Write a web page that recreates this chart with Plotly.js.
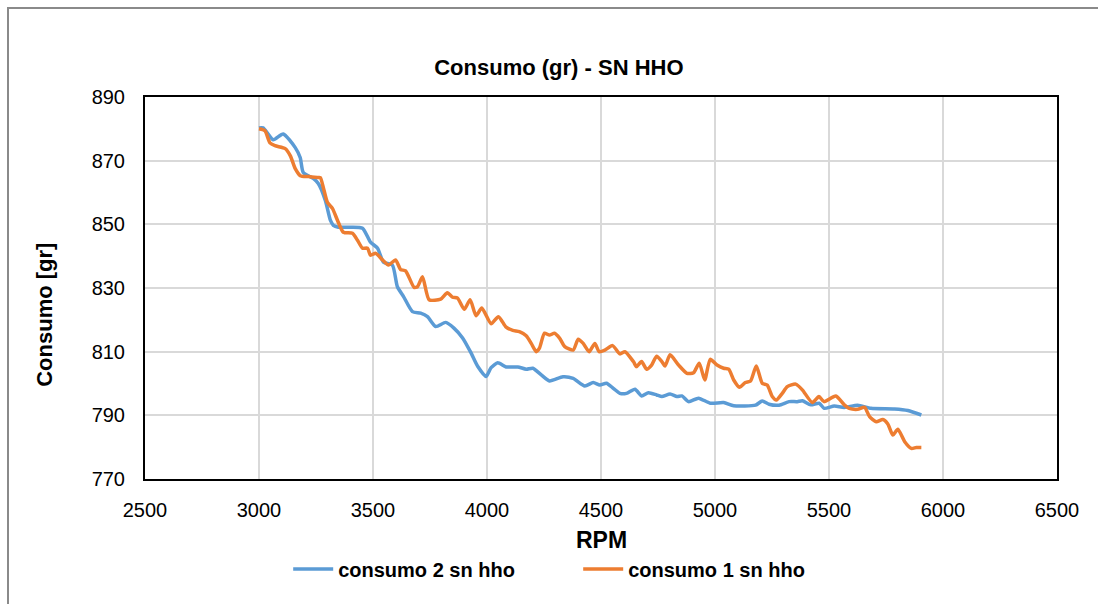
<!DOCTYPE html>
<html>
<head>
<meta charset="utf-8">
<script src="https://cdn.plot.ly/plotly-3.0.1.min.js"></script>
<style>
  html, body { margin: 0; padding: 0; background: #ffffff; }
  #wrap { position: relative; width: 1098px; height: 604px; overflow: hidden; }
  #frame { position: absolute; left: 7px; top: 7px; width: 1200px; height: 700px;
           border-top: 2px solid #8a8a8a; border-left: 2px solid #8a8a8a; }
  #chart { position: absolute; left: 0; top: 0; width: 1098px; height: 604px; }
</style>
</head>
<body>
<div id="wrap">
  <div id="frame"></div>
  <div id="chart"></div>
</div>
<script>
// consumo 2 sn hho (blue)
const rpm2 = [3000, 3018, 3062, 3106, 3159, 3181, 3194, 3238, 3260, 3291, 3313, 3326, 3348, 3401, 3454, 3489, 3520, 3546,
  3585, 3607, 3634, 3673, 3709, 3739, 3775, 3819, 3855, 3893, 3930, 3959, 3996, 4018, 4047, 4084, 4135, 4172,
  4201, 4238, 4274, 4333, 4378, 4429, 4466, 4495, 4524, 4554, 4583, 4612, 4649, 4678, 4708, 4744, 4767,
  4803, 4833, 4855, 4884, 4928, 4979, 5038, 5082, 5178, 5207, 5237, 5281, 5325, 5361, 5383, 5420, 5457,
  5479, 5523, 5567, 5626, 5684, 5787, 5846, 5905];
const cons2 = [880.3, 880.3, 876.6, 878.4, 874.1, 870.9, 866.3, 864.4, 862.8, 857.5, 851.3, 849.7, 849.1, 849.1, 848.8, 844.4, 842.5, 838.1,
  837.2, 830.4, 827.3, 822.6, 822.1, 821.0, 817.9, 819.2, 817.4, 814.3, 809.6, 805.4, 802.2, 805.0, 806.5, 805.2, 805.2, 804.5,
  804.8, 802.7, 800.8, 802.1, 801.6, 799.2, 800.3, 799.5, 800.1, 798.5, 796.9, 796.9, 798.2, 796.1, 797.1, 796.4, 795.9,
  796.7, 795.9, 796.1, 794.3, 795.4, 793.8, 794.0, 793.0, 793.2, 794.5, 793.5, 793.2, 794.3, 794.3, 794.6, 793.3, 793.8,
  792.2, 792.9, 792.5, 793.2, 792.2, 792.0, 791.5, 790.1];

// consumo 1 sn hho (orange)
const rpm1 = [3000, 3026, 3048, 3070, 3115, 3137, 3159, 3181, 3216, 3256, 3269, 3282, 3300, 3322, 3344, 3370, 3410, 3432, 3454,
  3476, 3489, 3511, 3542, 3568, 3599, 3621, 3643, 3680, 3695, 3717, 3746, 3797, 3826, 3849, 3871, 3900, 3926,
  3952, 3977, 4018, 4050, 4084, 4113, 4142, 4172, 4194, 4216, 4230, 4252, 4274, 4296, 4319, 4341, 4378, 4400,
  4422, 4448, 4473, 4492, 4517, 4551, 4583, 4605, 4642, 4656, 4678, 4700, 4722, 4744, 4767, 4781, 4803, 4840,
  4877, 4906, 4931, 4955, 4979, 5009, 5038, 5060, 5082, 5107, 5133, 5156, 5181, 5207, 5229, 5251, 5269, 5295,
  5317, 5354, 5383, 5427, 5456, 5478, 5530, 5567, 5589, 5626, 5656, 5678, 5707, 5736, 5758, 5780, 5802, 5832,
  5861, 5883, 5905];
const cons1 = [880.0, 879.4, 875.6, 874.7, 873.8, 871.6, 867.5, 865.3, 865.0, 864.7, 864.7, 861.6, 856.9, 855.0, 851.3, 847.5, 847.2, 845.0, 842.5,
  842.5, 840.3, 840.9, 838.8, 837.2, 838.8, 835.8, 835.4, 830.2, 830.4, 833.5, 826.3, 826.5, 828.5, 827.1, 826.8, 823.3, 826.3,
  821.3, 823.7, 818.8, 821.0, 817.7, 816.7, 816.3, 815.0, 812.6, 810.0, 811.1, 815.8, 815.2, 815.8, 814.2, 811.6, 810.5, 813.9,
  812.6, 810.0, 812.6, 810.0, 810.5, 811.9, 809.3, 810.0, 806.9, 805.3, 806.9, 804.5, 805.8, 808.6, 806.9, 805.5, 809.0, 805.8,
  803.2, 803.4, 806.4, 801.1, 807.6, 805.8, 804.8, 804.5, 801.1, 798.8, 800.3, 800.8, 805.5, 800.1, 799.5, 795.9, 794.8, 796.9,
  799.0, 799.8, 798.0, 794.0, 795.9, 794.3, 796.1, 793.3, 792.2, 791.9, 792.5, 789.6, 788.0, 788.7, 787.3, 783.8, 785.6, 781.7,
  779.6, 779.9, 779.9];

const xTicks = [2500, 3000, 3500, 4000, 4500, 5000, 5500, 6000, 6500];
const yTicks = [770, 790, 810, 830, 850, 870, 890];

const FONT = 'Liberation Sans, Arial, sans-serif';

const traces = [
  { x: rpm2, y: cons2, type: 'scatter', mode: 'lines', name: '<b>consumo 2 sn hho</b>',
    line: { color: '#5B9BD5', width: 3.5, shape: 'spline', smoothing: 0.6 } },
  { x: rpm1, y: cons1, type: 'scatter', mode: 'lines', name: '<b>consumo 1 sn hho</b>',
    line: { color: '#ED7D31', width: 3.5, shape: 'spline', smoothing: 0.6 } }
];

const layout = {
  width: 1098, height: 604,
  margin: { l: 145, r: 41, t: 97, b: 125 },
  paper_bgcolor: 'rgba(0,0,0,0)',
  plot_bgcolor: '#ffffff',
  font: { family: FONT, color: '#000000', size: 19 },
  title: { text: '<b>Consumo (gr) - SN HHO</b>', x: 0.509, xanchor: 'center', y: 0.888, yanchor: 'middle',
           font: { family: FONT, size: 22, color: '#000000' } },
  xaxis: {
    range: [2500, 6500], tickvals: xTicks, ticktext: xTicks.map(String),
    showgrid: true, gridcolor: '#d9d9d9', gridwidth: 2,
    showline: true, linecolor: '#000000', linewidth: 2, mirror: true,
    ticks: '', zeroline: false, tickfont: { size: 20 }, ticklabelstandoff: 12
  },
  yaxis: {
    range: [770, 890], tickvals: yTicks, ticktext: yTicks.map(String),
    showgrid: true, gridcolor: '#d9d9d9', gridwidth: 2,
    showline: true, linecolor: '#000000', linewidth: 2, mirror: true,
    ticks: '', zeroline: false, tickfont: { size: 20 }, ticklabelstandoff: 14
  },
  annotations: [
    { text: '<b>RPM</b>', xref: 'paper', yref: 'paper', x: 0.5, y: -0.16,
      xanchor: 'center', yanchor: 'middle', showarrow: false, font: { size: 23 } },
    { text: '<b>Consumo [gr]</b>', xref: 'paper', yref: 'paper', x: -0.1096, y: 0.43,
      xanchor: 'center', yanchor: 'middle', textangle: -90, showarrow: false, font: { size: 22 } }
  ],
  showlegend: true,
  legend: { orientation: 'h', x: 0.157, xanchor: 'left', y: -0.2356, yanchor: 'middle',
            font: { size: 20 }, itemwidth: 40, entrywidth: 235, bgcolor: 'rgba(0,0,0,0)' }
};

Plotly.newPlot('chart', traces, layout, { displayModeBar: false, staticPlot: true });
</script>
</body>
</html>
